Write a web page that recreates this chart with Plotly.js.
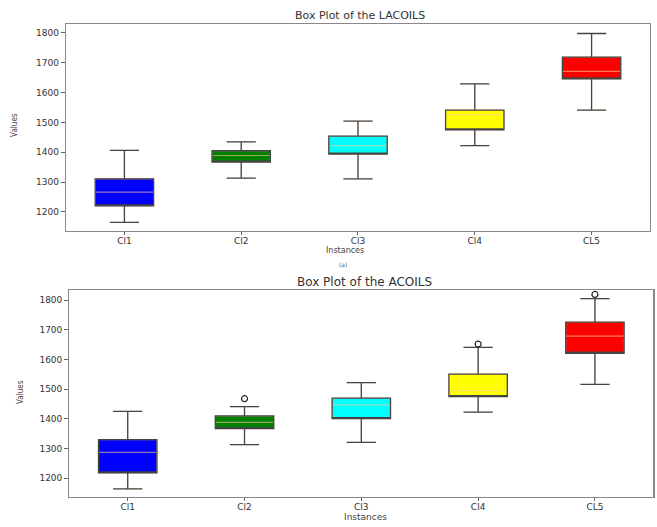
<!DOCTYPE html>
<html>
<head>
<meta charset="utf-8">
<script src="https://cdn.plot.ly/plotly-3.0.1.min.js"></script>
<style>html,body{margin:0;padding:0;background:#fff;}#chart{width:657px;height:527px;}</style>
</head>
<body>
<div id="chart"></div>
<script>
const categories = ['Cl1', 'Cl2', 'Cl3', 'Cl4', 'CL5'];
const boxColors = ['#0000ff', '#008000', '#00ffff', '#ffff00', '#ff0000'];

// Box Plot of the LACOILS
const lacoilsLower  = [1165, 1313, 1311, 1422, 1541];
const lacoilsQ1     = [1220, 1367, 1394, 1475, 1646];
const lacoilsMedian = [1266, 1389, 1422, 1526, 1671];
const lacoilsQ3     = [1311, 1405, 1454, 1541, 1719];
const lacoilsUpper  = [1406, 1435, 1504, 1629, 1798];

// Box Plot of the ACOILS
const acoilsLower  = [1164, 1313, 1321, 1423, 1516];
const acoilsQ1     = [1218, 1367, 1401, 1475, 1621];
const acoilsMedian = [1287, 1388, 1447, 1495, 1679];
const acoilsQ3     = [1330, 1410, 1470, 1551, 1726];
const acoilsUpper  = [1425, 1441, 1522, 1641, 1805];
const acoilsOutlierX = ['Cl2', 'Cl4', 'CL5'];
const acoilsOutlierY = [1468, 1652, 1819];

const yTicks = [1200, 1300, 1400, 1500, 1600, 1700, 1800];

const traces = [];
function addBoxes(lower, q1, med, q3, upper, xa, ya) {
  categories.forEach((c, i) => {
    // fill + median layer
    traces.push({
      type: 'box', x: [c], q1: [q1[i]], median: [med[i]], q3: [q3[i]],
      lowerfence: [lower[i]], upperfence: [upper[i]],
      xaxis: xa, yaxis: ya, width: 0.5, whiskerwidth: 0.5,
      fillcolor: boxColors[i],
      line: {color: 'rgba(255,200,150,0.6)', width: 1.2},
      showlegend: false, hoverinfo: 'skip'
    });
    // outline + whisker layer
    traces.push({
      type: 'box', x: [c], q1: [q1[i]], median: [q1[i]], q3: [q3[i]],
      lowerfence: [lower[i]], upperfence: [upper[i]],
      xaxis: xa, yaxis: ya, width: 0.5, whiskerwidth: 0.5,
      fillcolor: 'rgba(0,0,0,0)',
      line: {color: '#444', width: 1.3},
      showlegend: false, hoverinfo: 'skip'
    });
  });
}
addBoxes(lacoilsLower, lacoilsQ1, lacoilsMedian, lacoilsQ3, lacoilsUpper, 'x', 'y');
addBoxes(acoilsLower, acoilsQ1, acoilsMedian, acoilsQ3, acoilsUpper, 'x2', 'y2');
traces.push({
  type: 'scatter', mode: 'markers', x: acoilsOutlierX, y: acoilsOutlierY,
  xaxis: 'x2', yaxis: 'y2',
  marker: {symbol: 'circle-open', size: 6, color: '#222', line: {width: 1.2, color: '#222'}},
  showlegend: false, hoverinfo: 'skip'
});

const tickFont = {family: 'DejaVu Sans', size: 9, color: '#333'};
function xAxis(domain, anchor) {
  return {
    domain: domain, anchor: anchor, type: 'category', categoryorder: 'array',
    categoryarray: categories, range: [-0.5, 4.5],
    showline: true, mirror: true, linecolor: '#888', linewidth: 1.2,
    ticks: 'outside', ticklen: 3, tickcolor: '#666', showgrid: false, zeroline: false,
    ticklabelstandoff: -2,
    tickfont: tickFont, automargin: false, fixedrange: true
  };
}
function yAxis(domain, anchor, range) {
  return {
    domain: domain, anchor: anchor, range: range, tickvals: yTicks,
    showline: true, mirror: true, linecolor: '#888', linewidth: 1.2,
    ticks: 'outside', ticklen: 4, tickcolor: '#666', showgrid: false, zeroline: false,
    tickfont: tickFont, automargin: false, fixedrange: true
  };
}

function note(text, x, y, size, color, extra) {
  return Object.assign({text: text, xref: 'paper', yref: 'paper', x: x, y: y,
    xanchor: 'center', yanchor: 'middle', showarrow: false,
    font: {family: 'DejaVu Sans', size: size, color: color}}, extra || {});
}

const layout = {
  width: 657, height: 527,
  margin: {l: 0, r: 0, t: 0, b: 0},
  paper_bgcolor: '#fff', plot_bgcolor: '#fff',
  showlegend: false, boxmode: 'overlay',
  xaxis: xAxis([0.1005, 0.9893], 'y'),
  yaxis: yAxis([0.5617, 0.9545], 'x', [1136, 1830]),
  xaxis2: xAxis([0.1055, 0.9944], 'y2'),
  yaxis2: yAxis([0.0564, 0.4497], 'x2', [1136, 1834]),
  annotations: [
    note('Box Plot of the LACOILS', 0.548, 0.9715, 11, '#333'),
    note('Box Plot of the ACOILS', 0.555, 0.465, 12, '#333'),
    note('Instances', 0.525, 0.524, 8, '#444'),
    note('Instances', 0.556, 0.019, 9, '#444'),
    note('(a)', 0.522, 0.498, 6, '#555'),
    note('Values', 0.0228, 0.763, 8, '#444',
         {textangle: -90, font: {family: 'DejaVu Sans Condensed', size: 8, color: '#444'}}),
    note('Values', 0.0304, 0.256, 8, '#444',
         {textangle: -90, font: {family: 'DejaVu Sans Condensed', size: 8, color: '#444'}})
  ]
};

Plotly.newPlot('chart', traces, layout, {staticPlot: true, displayModeBar: false});
</script>
</body>
</html>
